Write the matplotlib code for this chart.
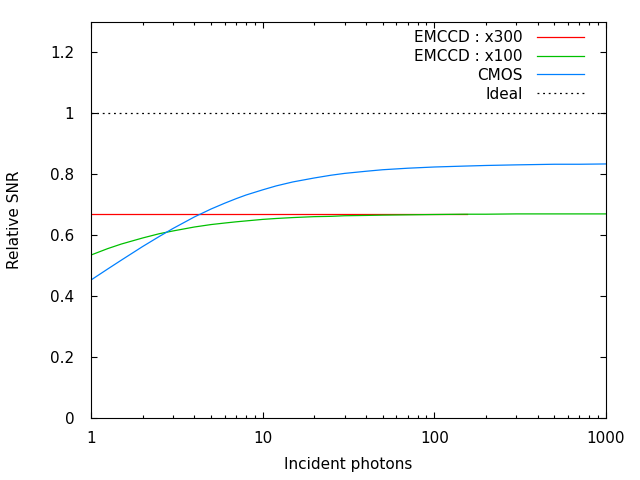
import matplotlib
matplotlib.use("Agg")
import matplotlib.pyplot as plt
from matplotlib.ticker import LogLocator, FixedLocator, NullFormatter

# ---- data ----
photons = [1, 1.25, 1.5, 2, 2.5, 3, 4, 5, 6, 7, 8, 10, 12, 15, 20, 25, 30, 40,
           50, 70, 100, 150, 200, 300, 500, 700, 1000]
cmos = [0.453, 0.489, 0.518, 0.563, 0.596, 0.622, 0.660, 0.686, 0.705, 0.720,
        0.732, 0.749, 0.762, 0.775, 0.788, 0.797, 0.803, 0.810, 0.815, 0.820,
        0.824, 0.827, 0.829, 0.831, 0.833, 0.833, 0.834]
emccd_100 = [0.535, 0.556, 0.571, 0.591, 0.605, 0.614, 0.627, 0.635, 0.640,
             0.644, 0.647, 0.652, 0.655, 0.658, 0.661, 0.662, 0.664, 0.665,
             0.666, 0.667, 0.668, 0.669, 0.669, 0.670, 0.670, 0.670, 0.670]
emccd_300_x = [1, 156]
emccd_300 = [0.67, 0.67]
ideal_x = [1, 1000]
ideal = [1.0, 1.0]

plt.rcParams['font.family'] = ['DejaVu Sans']
plt.rcParams['font.size'] = 11

fig = plt.figure(figsize=(6.4, 4.8), dpi=100)
ax = fig.add_axes([91 / 640, 1 - 418 / 480, (606 - 91) / 640, (418 - 22) / 480])

ax.plot(emccd_300_x, emccd_300, color='#ff0000', lw=0.9, label='EMCCD : x300')
ax.plot(photons, emccd_100, color='#00c000', lw=0.9, label='EMCCD : x100')
ax.plot(photons, cmos, color='#0080ff', lw=0.9, label='CMOS')
ax.plot(ideal_x, ideal, color='black', lw=0.9, ls=(0, (1.5, 3)), label='Ideal')

ax.set_xscale('log')
ax.set_xlim(1, 1000)
ax.set_ylim(0, 1.3)
ax.xaxis.set_major_locator(FixedLocator([1, 10, 100, 1000]))
ax.set_xticklabels(['1', '10', '100', '1000'])
ax.xaxis.set_minor_locator(LogLocator(base=10, subs=range(2, 10)))
ax.xaxis.set_minor_formatter(NullFormatter())
ax.set_yticks([0, 0.2, 0.4, 0.6, 0.8, 1, 1.2])
ax.set_yticklabels(['0', '0.2', '0.4', '0.6', '0.8', '1', '1.2'])

ax.tick_params(which='both', direction='in', top=True, right=True, width=0.8)
ax.tick_params(which='major', length=4)
ax.tick_params(which='minor', length=2)
ax.tick_params(axis='y', pad=12)
ax.tick_params(axis='x', pad=9.5)
for s in ax.spines.values():
    s.set_linewidth(0.8)

ax.set_xlabel('Incident photons', labelpad=8)
ax.set_ylabel('Relative SNR', labelpad=20)

leg = ax.legend(loc='upper right', frameon=False, markerfirst=False,
                handlelength=3.1, handletextpad=0.9, labelspacing=0.25,
                borderaxespad=0.0, bbox_to_anchor=(0.969, 0.995))
# right-align the label column like gnuplot does
for col in leg._legend_handle_box.get_children():
    col.align = 'right'

fig.savefig('out.png', dpi=100)
